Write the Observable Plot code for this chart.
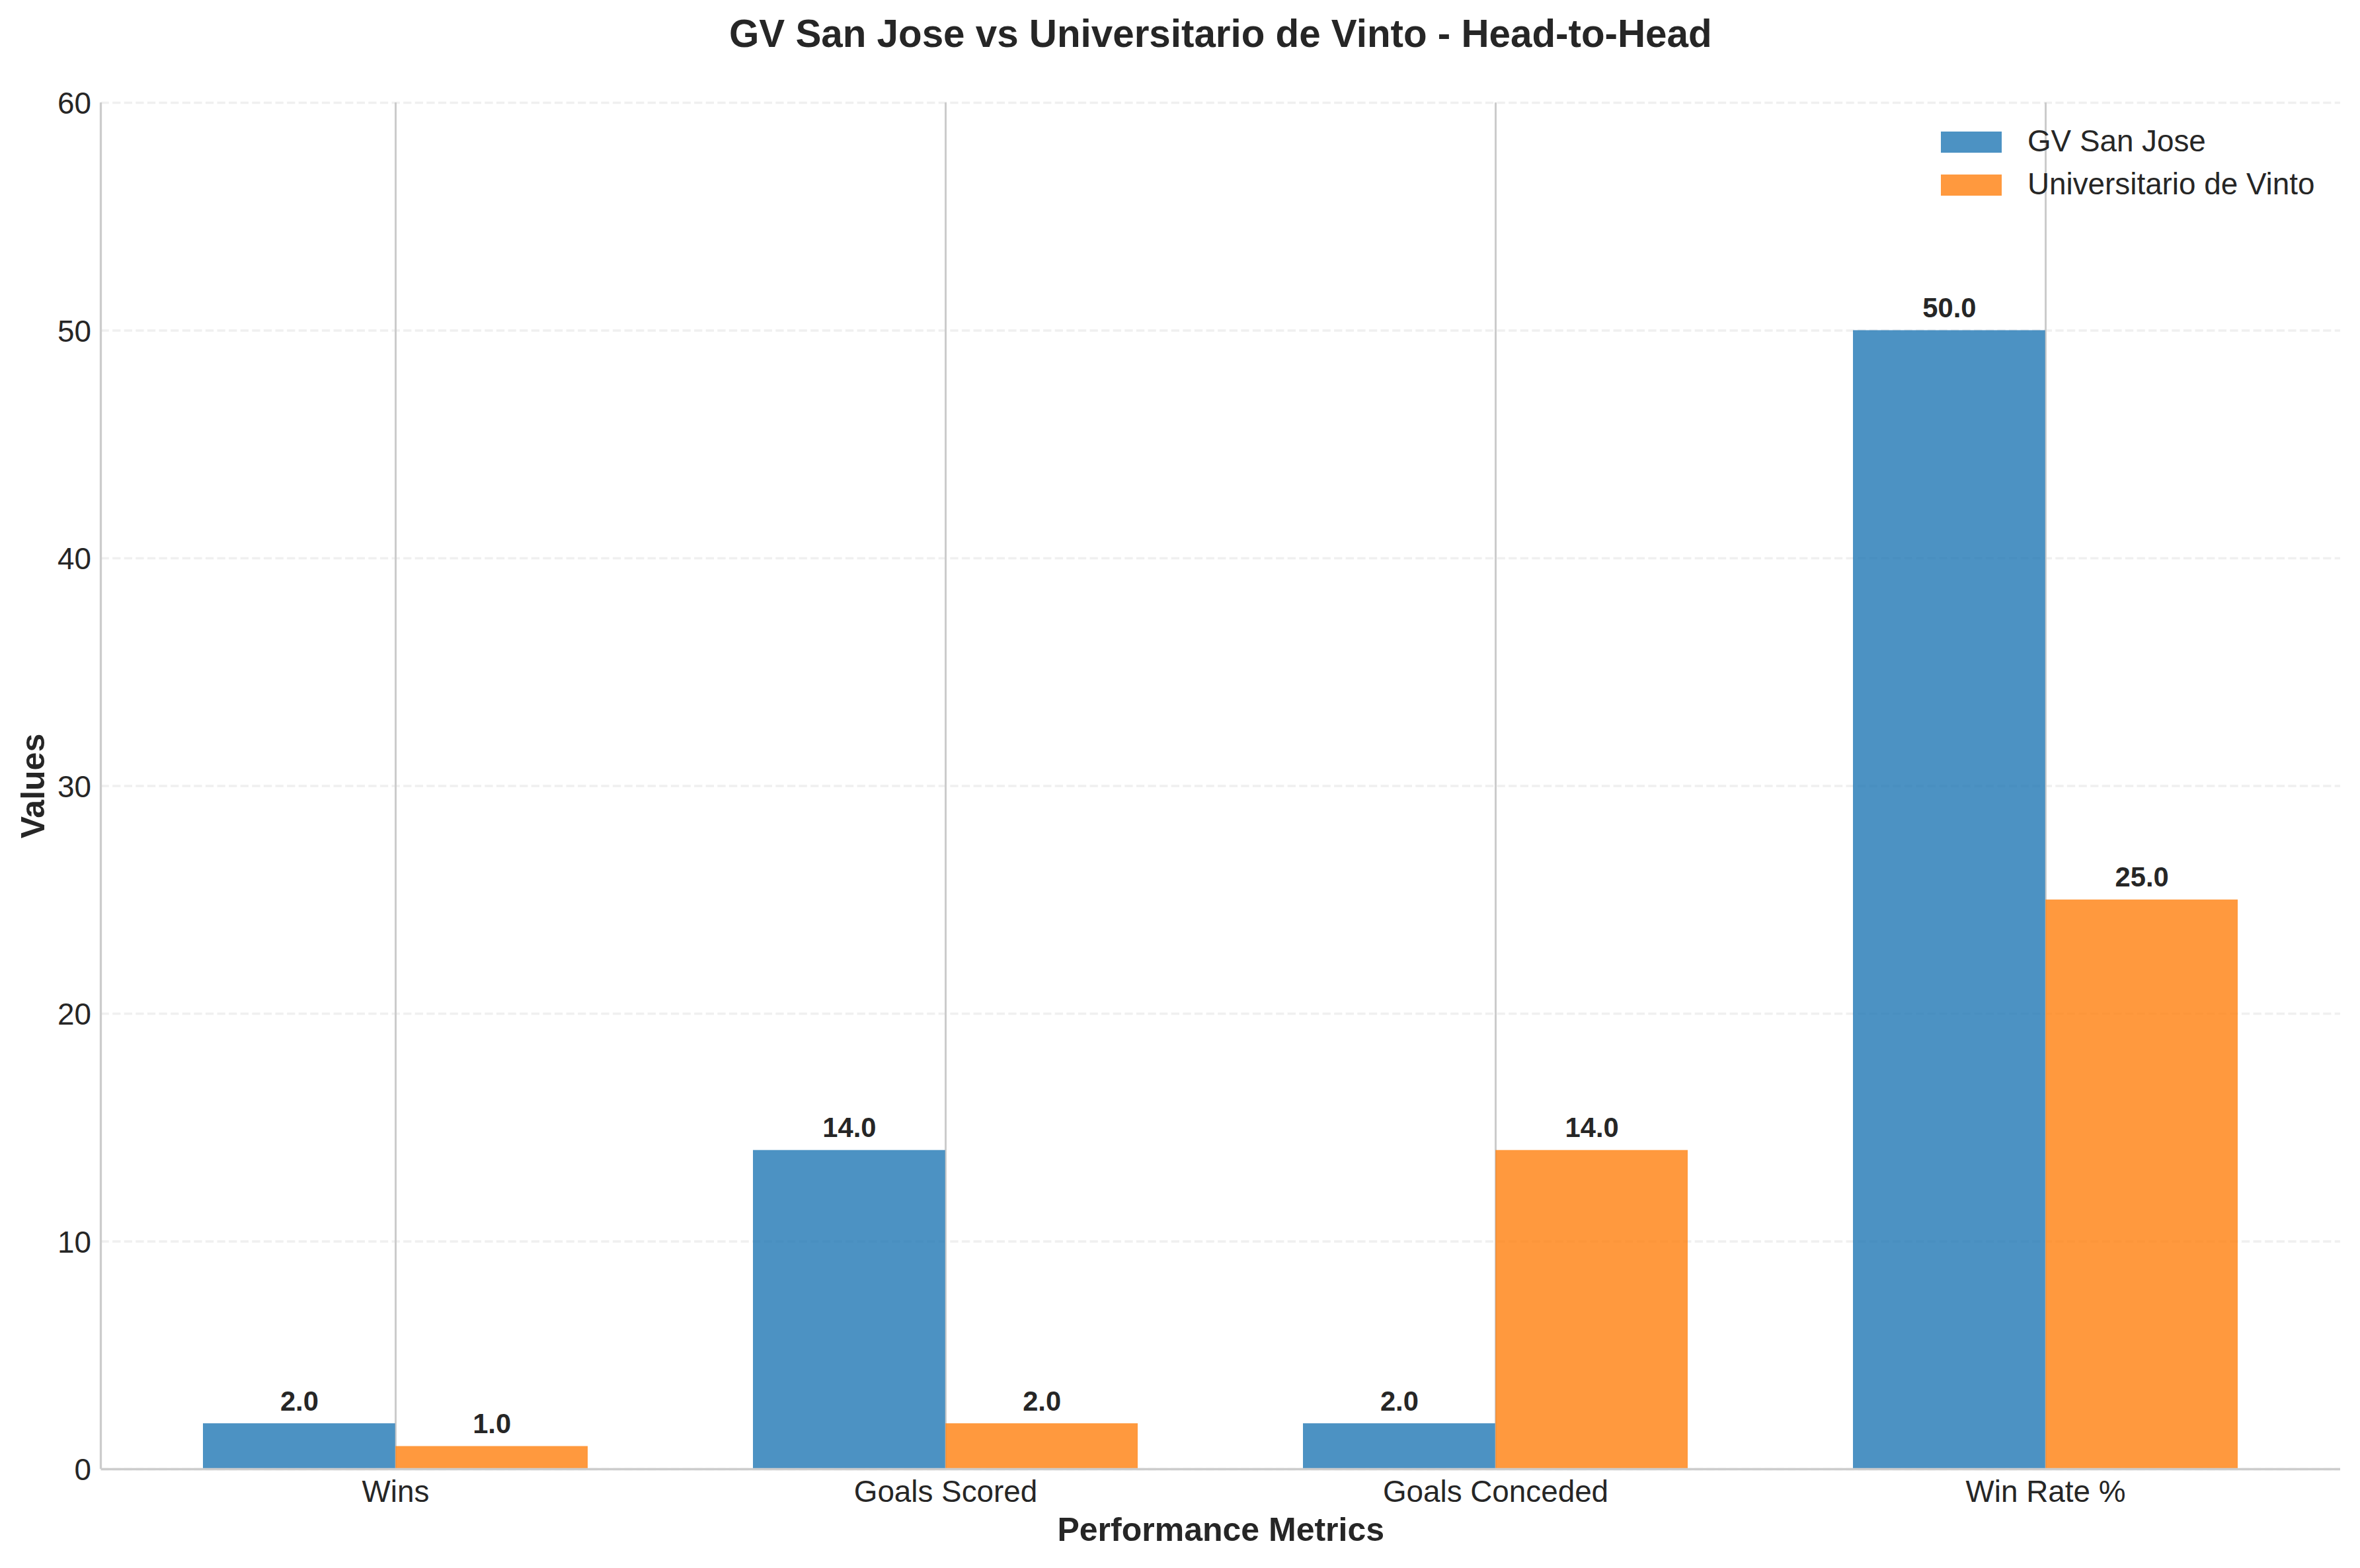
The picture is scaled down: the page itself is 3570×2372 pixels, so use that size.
<!DOCTYPE html>
<html>
<head>
<meta charset="utf-8">
<script src="https://cdn.jsdelivr.net/npm/d3@7"></script>
<script src="https://cdn.jsdelivr.net/npm/@observablehq/plot@0.6"></script>
<style>
  html, body { margin: 0; padding: 0; background: #ffffff; }
  #page { position: relative; width: 3570px; height: 2372px; background: #ffffff; overflow: hidden;
          font-family: "Liberation Sans", Arial, Helvetica, sans-serif; color: #262626; }
  #title { position: absolute; left: 152.5px; width: 3387.5px; top: 21.6px; text-align: center;
           font-size: 58.33px; line-height: 58.33px; font-weight: bold; white-space: nowrap; }
  #chart { position: absolute; left: 0; top: 100px; }
  .lg-sw { position: absolute; width: 92px; height: 32px; }
  .lg-tx { position: absolute; font-size: 45.8px; line-height: 45.8px; white-space: nowrap; }
</style>
</head>
<body>
<div id="page">
  <div id="title">GV San Jose vs Universitario de Vinto - Head-to-Head</div>
  <div id="chart"></div>
  <div id="legend"></div>
</div>
<script>
// ---- data ----
const metrics = ["Wins", "Goals Scored", "Goals Conceded", "Win Rate %"];
const teams = ["GV San Jose", "Universitario de Vinto"];
const gvSanJose = [2, 14, 2, 50];
const univVinto = [1, 2, 14, 25];
const yTicks = [0, 10, 20, 30, 40, 50, 60];
const teamColors = ["#1f77b4", "#ff7f0e"];

// ---- layout ----
const W = 3570, H = 2272;
const mL = 152.5, mR = 30, mT = 55, mB = 150;
const xBand = d3.scaleBand(metrics, [mL, W - mR]).paddingInner(0.3).paddingOuter(0.185);
const half = xBand.bandwidth() / 2;

const gvRows = metrics.map((metric, i) => ({metric, team: teams[0], value: gvSanJose[i]}));
const uvRows = metrics.map((metric, i) => ({metric, team: teams[1], value: univVinto[i]}));

const fmt = d => d.value.toFixed(1);
const ink = "#262626";
const spine = "#cccccc";

const leftSpine = (index, scales, values, dims) => {
  const g = d3.create("svg:g");
  g.append("line")
    .attr("x1", dims.marginLeft).attr("x2", dims.marginLeft)
    .attr("y1", dims.marginTop).attr("y2", dims.height - dims.marginBottom)
    .attr("stroke", spine).attr("stroke-width", 3.33);
  return g.node();
};

const chart = Plot.plot({
  width: W,
  height: H,
  marginLeft: mL,
  marginRight: mR,
  marginTop: mT,
  marginBottom: mB,
  style: {fontFamily: "'Liberation Sans', Arial, Helvetica, sans-serif", fontSize: "45.8px", color: ink, background: "#ffffff", overflow: "visible"},
  x: {type: "band", domain: metrics, paddingInner: 0.3, paddingOuter: 0.185, axis: null, label: null},
  y: {domain: [0, 60], axis: null, label: null},
  color: {domain: teams, range: teamColors},
  marks: [
    Plot.ruleY(yTicks, {stroke: spine, strokeOpacity: 0.3, strokeWidth: 3.33, strokeDasharray: "12.3,5.3"}),
    Plot.ruleX(metrics, {x: d => d, stroke: spine, strokeWidth: 3}),
    Plot.barY(gvRows, {x: "metric", y: "value", fill: "team", fillOpacity: 0.8, insetRight: half}),
    Plot.barY(uvRows, {x: "metric", y: "value", fill: "team", fillOpacity: 0.8, insetLeft: half}),
    Plot.ruleY([0], {stroke: spine, strokeWidth: 3.33}),
    leftSpine,
    Plot.text(gvRows, {x: "metric", y: "value", text: fmt, dx: -half / 2, dy: -20, lineAnchor: "bottom",
                       fontSize: 41.7, fontWeight: "bold", fill: ink}),
    Plot.text(uvRows, {x: "metric", y: "value", text: fmt, dx: half / 2, dy: -20, lineAnchor: "bottom",
                       fontSize: 41.7, fontWeight: "bold", fill: ink}),
    Plot.axisX({tickSize: 0, tickPadding: 16.5, fontSize: 45.8, label: null}),
    Plot.axisY({ticks: yTicks, tickSize: 0, tickPadding: 15, fontSize: 45.8, label: null, dy: 2}),
    Plot.text(["Performance Metrics"], {text: d => d, frameAnchor: "bottom", textAnchor: "middle", lineAnchor: "bottom", dy: 108,
                                        fontSize: 50, fontWeight: "bold", fill: ink}),
    Plot.text(["Values"], {text: d => d, frameAnchor: "left", textAnchor: "middle", rotate: -90, lineAnchor: "bottom", dx: -86.5,
                           fontSize: 50, fontWeight: "bold", fill: ink})
  ]
});
document.getElementById("chart").appendChild(chart);

// ---- legend (upper right, inside axes) ----
const legend = document.getElementById("legend");
const legendTop = [199, 264];
teams.forEach((team, i) => {
  const sw = document.createElement("div");
  sw.className = "lg-sw";
  sw.style.left = "2936px";
  sw.style.top = legendTop[i] + "px";
  sw.style.background = teamColors[i];
  sw.style.opacity = 0.8;
  legend.appendChild(sw);
  const tx = document.createElement("div");
  tx.className = "lg-tx";
  tx.style.left = "3067px";
  tx.style.top = (legendTop[i] - 8) + "px";
  tx.textContent = team;
  legend.appendChild(tx);
});
</script>
</body>
</html>
